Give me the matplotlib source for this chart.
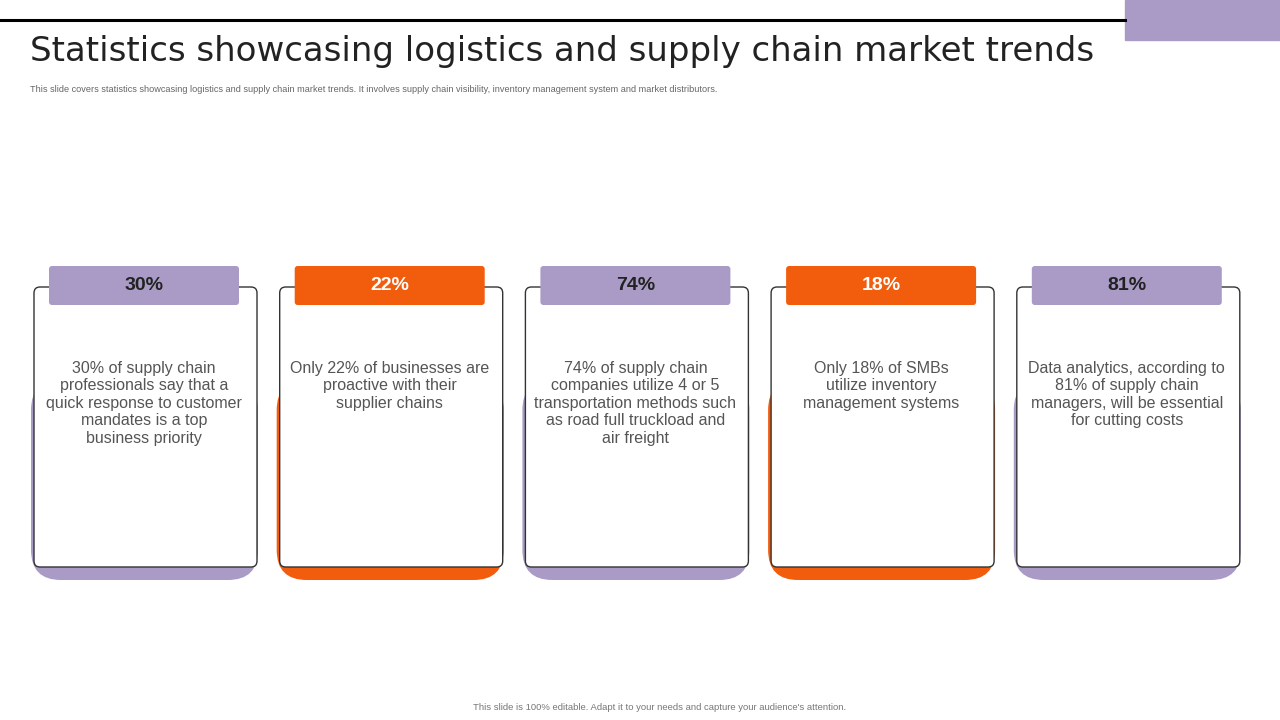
import matplotlib
matplotlib.use("Agg")
import matplotlib.pyplot as plt
from matplotlib.patches import FancyBboxPatch, Rectangle

percents = ["30%", "22%", "74%", "18%", "81%"]
descriptions = [
    "30% of supply chain\nprofessionals say that a\nquick response to customer\nmandates is a top\nbusiness priority",
    "Only 22% of businesses are\nproactive with their\nsupplier chains",
    "74% of supply chain\ncompanies utilize 4 or 5\ntransportation methods such\nas road full truckload and\nair freight",
    "Only 18% of SMBs\nutilize inventory\nmanagement systems",
    "Data analytics, according to\n81% of supply chain\nmanagers, will be essential\nfor cutting costs",
]
accents = ["purple", "orange", "purple", "orange", "purple"]
palette = {"purple": "#A99BC6", "orange": "#F25C0D"}

plt.rcParams['font.family'] = ['Liberation Sans', 'DejaVu Sans']
fig = plt.figure(figsize=(12.8, 7.2), dpi=100)
ax = fig.add_axes([0, 0, 1, 1])
ax.set_xlim(0, 1280)
ax.set_ylim(720, 0)
ax.axis("off")

ax.plot([0, 1125], [20, 20], color="black", lw=2.2)
ax.add_patch(Rectangle((1125, 0), 155, 40, color=palette["purple"]))
ax.text(30, 52, "Statistics showcasing logistics and supply chain market trends",
        fontsize=24.5, va="center", ha="left", color="#222222", family="DejaVu Sans")
ax.text(30, 90, "This slide covers statistics showcasing logistics and supply chain market trends. It involves supply chain visibility, inventory management system and market distributors.",
        fontsize=6.6, va="center", ha="left", color="#666666")
ax.text(660, 707, "This slide is 100% editable. Adapt it to your needs and capture your audience's attention.",
        fontsize=6.8, va="center", ha="center", color="#777777")

for i, (p, d, a) in enumerate(zip(percents, descriptions, accents)):
    x0 = 34 + i * 245.7
    col = palette[a]
    ax.add_patch(FancyBboxPatch((x0 - 3 + 30, 380 + 30), 227 - 60, 200 - 60,
                                boxstyle="round,pad=30", fc=col, ec="none", zorder=1))
    ax.add_patch(FancyBboxPatch((x0 + 6, 287 + 6), 223 - 12, 280 - 12,
                                boxstyle="round,pad=6", fc="white", ec="#333333", lw=1, zorder=2))
    ax.add_patch(FancyBboxPatch((x0 + 15 + 3, 266 + 3), 190 - 6, 39 - 6,
                                boxstyle="round,pad=3", fc=col, ec="none", zorder=3))
    ax.text(x0 + 110, 286, p, fontsize=14, fontweight="bold", ha="center", va="center",
            color="white" if a == "orange" else "#222222", zorder=4)
    ax.text(x0 + 110, 361, d, fontsize=11.5, ha="center", va="top", color="#555555",
            linespacing=1.2, zorder=4)

fig.savefig("out.png", dpi=100)
